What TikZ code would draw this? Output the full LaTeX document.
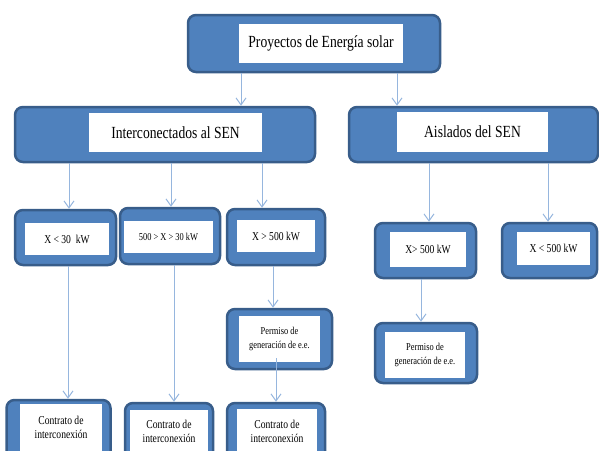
\documentclass[tikz,border=0pt]{standalone}
\usepackage{fontspec}
\setmainfont{Liberation Serif}
\newfontfamily\estrecha[FakeStretch=0.8]{Liberation Serif}
\usetikzlibrary{arrows.meta,positioning,calc}
\definecolor{azulCaja}{RGB}{79,129,189}
\definecolor{azulBorde}{RGB}{56,93,138}
\definecolor{azulFlecha}{RGB}{150,182,222}

\begin{document}
\begin{tikzpicture}[x=1pt,y=-1pt,
  caja/.style={rectangle,rounded corners=8pt,fill=azulCaja,draw=azulBorde,
               line width=2.5pt,inner sep=0pt},
  rotulo/.style={rectangle,fill=white,inner sep=0pt,align=center,text=black},
  grande/.style={font=\estrecha\fontsize{17}{20}\selectfont},
  chico/.style={font=\estrecha\fontsize{12}{14}\selectfont},
  permiso/.style={font=\estrecha\fontsize{10.5}{14}\selectfont},
  contrato/.style={font=\estrecha\fontsize{12}{14}\selectfont,align=center,inner sep=0pt},
  flecha/.style={azulFlecha,line width=1pt,-{Straight Barb[length=7pt,width=10pt]}}]
  \clip (0,0) rectangle (599,450);

  % nivel 1
  \node[caja,minimum width=252pt,minimum height=57pt] (P) at (314,43.5) {};
  \node[rotulo,grande,minimum width=164pt,minimum height=39pt] (Pt) at (321,43.5)
    {Proyectos de Energía solar};

  % nivel 2
  \node[caja,minimum width=300pt,minimum height=55pt] (I) at (165,134.5) {};
  \node[rotulo,grande,minimum width=173pt,minimum height=39pt] (It) at (175.5,132.5)
    {Interconectados al SEN};
  \node[caja,minimum width=249pt,minimum height=55pt] (A) at (473.5,134.5) {};
  \node[rotulo,grande,minimum width=151pt,minimum height=40pt] (At) at (472.5,132)
    {Aislados del SEN};

  % nivel 3
  \node[caja,minimum width=101pt,minimum height=55pt] (I1) at (65.5,237.5) {};
  \node[rotulo,chico,minimum width=84pt,minimum height=32pt] (I1t) at (67,239)
    {X < 30\ \ kW};
  \node[caja,minimum width=100pt,minimum height=56pt] (I2) at (170,236) {};
  \node[rotulo,chico,font=\estrecha\fontsize{10.5}{14}\selectfont,
        minimum width=89pt,minimum height=32pt] (I2t) at (168.5,237)
    {500 > X > 30 kW};
  \node[caja,minimum width=98pt,minimum height=56pt] (I3) at (276,237) {};
  \node[rotulo,chico,minimum width=78pt,minimum height=32pt] (I3t) at (276,236)
    {X > 500 kW};
  \node[caja,minimum width=101pt,minimum height=55pt] (A1) at (425.5,250.5) {};
  \node[rotulo,chico,minimum width=76pt,minimum height=35pt] (A1t) at (428,249.5)
    {X> 500 kW};
  \node[caja,minimum width=95pt,minimum height=55pt] (A2) at (549.5,250.5) {};
  \node[rotulo,chico,minimum width=73pt,minimum height=33pt] (A2t) at (553.5,248.5)
    {X < 500 kW};

  % permisos
  \node[caja,minimum width=105pt,minimum height=60pt] (PI) at (279.5,339) {};
  \node[rotulo,permiso,minimum width=81pt,minimum height=46pt]
    (PIt) at (279.5,339) {Permiso de\\generación de e.e.};
  \node[caja,minimum width=102pt,minimum height=60pt] (PA) at (426,353) {};
  \node[rotulo,permiso,minimum width=80pt,minimum height=46pt]
    (PAt) at (425,355) {Permiso de\\generación de e.e.};

  % contratos
  \node[caja,minimum width=104pt,minimum height=70pt] (C1) at (58.5,435) {};
  \node[rotulo,minimum width=82pt,minimum height=60pt] (C1t) at (61,434) {};
  \node[contrato] at (61,427) {Contrato de\\interconexión};
  \node[caja,minimum width=88pt,minimum height=70pt] (C2) at (169,438) {};
  \node[rotulo,minimum width=78pt,minimum height=60pt] (C2t) at (169,440) {};
  \node[contrato] at (169,431) {Contrato de\\interconexión};
  \node[caja,minimum width=98pt,minimum height=70pt] (C3) at (276,438) {};
  \node[rotulo,minimum width=80pt,minimum height=60pt] (C3t) at (277,439) {};
  \node[contrato] at (277,431) {Contrato de\\interconexión};

  % flechas
  \draw[flecha] (241,0 |- P.south) -- (241,0 |- I.north);
  \draw[flecha] (397,0 |- P.south) -- (397,0 |- A.north);
  \draw[flecha] (69,0 |- I.south) -- (69,0 |- I1.north);
  \draw[flecha] (171,0 |- I.south) -- (171,0 |- I2.north);
  \draw[flecha] (262,0 |- I.south) -- (262,0 |- I3.north);
  \draw[flecha] (429,0 |- A.south) -- (429,0 |- A1.north);
  \draw[flecha] (548,0 |- A.south) -- (548,0 |- A2.north);
  \draw[flecha] (68,0 |- I1.south) -- (68,0 |- C1.north);
  \draw[flecha] (174,0 |- I2.south) -- (174,0 |- C2.north);
  \draw[flecha] (273,0 |- I3.south) -- (273,0 |- PI.north);
  \draw[flecha] (421,0 |- A1.south) -- (421,0 |- PA.north);
  \draw[flecha] (276,358) -- (276,0 |- C3.north);
\end{tikzpicture}
\end{document}
